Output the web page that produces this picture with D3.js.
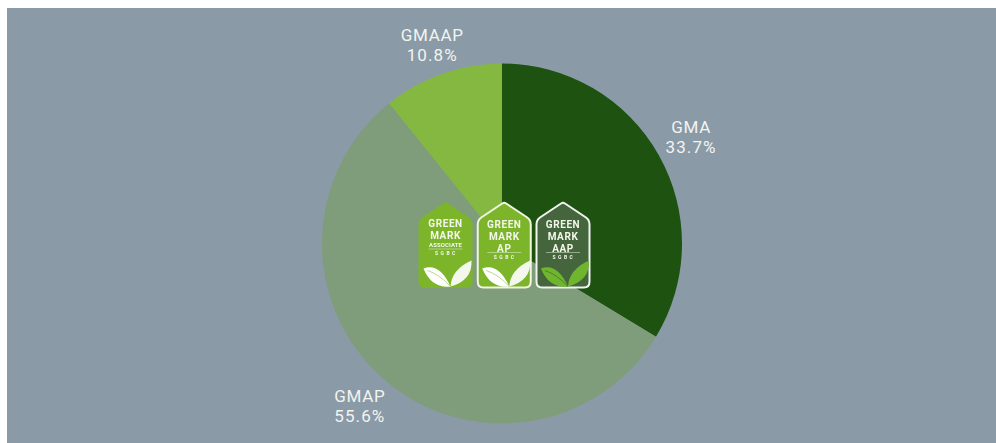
<!DOCTYPE html>
<html>
<head>
<meta charset="utf-8">
<title>Green Mark accreditation share</title>
<script src="https://cdn.jsdelivr.net/npm/d3@7"></script>
<style>
  html, body { margin: 0; padding: 0; background: #fff; }
  svg { display: block; }
  text { font-family: Roboto, sans-serif; }
</style>
</head>
<body>
<div id="chart"></div>
<script>
// chart data
const categories = ["GMA", "GMAP", "GMAAP"];
const shares = [33.7, 55.6, 10.8];
const sliceColors = ["#1e5211", "#7f9c7b", "#84b840"];

// badge content
const badgeLines = [
  ["GREEN", "MARK", "ASSOCIATE"],
  ["GREEN", "MARK", "AP"],
  ["GREEN", "MARK", "AAP"]
];
const badgeFooter = "S G B C";

const width = 996;
const height = 443;
const cx = 502;
const cy = 243.5;
const radius = 180;
const labelRadius = [217, 216, 210];

const svg = d3.select("#chart")
  .append("svg")
    .attr("width", width)
    .attr("height", height);

// the badges in the source are a soft raster
const blur = svg.append("defs")
  .append("filter")
    .attr("id", "soft");
blur.append("feGaussianBlur").attr("stdDeviation", 0.35);

// panel, leaves a white strip on the top and left
svg.append("rect")
  .attr("x", 7)
  .attr("y", 8)
  .attr("width", width - 7)
  .attr("height", height - 8)
  .attr("fill", "#8a9ba7");

const pie = d3.pie().sort(null).value(d => d);
const arc = d3.arc().innerRadius(0).outerRadius(radius);
const slices = pie(shares);

const g = svg.append("g")
  .attr("transform", `translate(${cx},${cy})`);

g.selectAll("path")
  .data(slices)
  .enter()
  .append("path")
    .attr("d", arc)
    .attr("fill", (d, i) => sliceColors[i]);

const labels = g.selectAll(".slice-label")
  .data(slices)
  .enter()
  .append("text")
    .attr("class", "slice-label")
    .attr("transform", (d, i) => {
      const r = labelRadius[i];
      const [x, y] = d3.arc().innerRadius(r).outerRadius(r).centroid(d);
      return `translate(${x},${y})`;
    })
    .attr("text-anchor", "middle")
    .attr("fill", "#f2f4f0")
    .attr("font-size", 17);

labels.append("tspan")
  .attr("x", 0)
  .attr("y", -4)
  .attr("letter-spacing", 0.7)
  .text((d, i) => categories[i]);

labels.append("tspan")
  .attr("x", 0)
  .attr("y", 16)
  .attr("letter-spacing", 1.1)
  .text(d => d.value.toFixed(1) + "%");

// badges sitting on the middle of the pie
const badgeX = d3.scalePoint().domain([0, 1, 2]).range([445.5, 563]);
const badgeStyles = [
  { fill: "#7cb52c", stroke: "#7cb52c", leaf: "#ffffff", leaf2: "#f4f8ec", vein: "#9cc862" },
  { fill: "#7cb52c", stroke: "#eef6df", leaf: "#ffffff", leaf2: "#f4f8ec", vein: "#9cc862" },
  { fill: "#44663c", stroke: "#f1f3ef", leaf: "#6fb52f", leaf2: "#6fb52f", vein: "#44663c" }
];
const badgeShape = "M-2,-41 Q0,-42.5 2,-41 L23,-27 Q26.5,-24.5 26.5,-20 L26.5,37 Q26.5,43 21,43 L-21,43 Q-26.5,43 -26.5,37 L-26.5,-20 Q-26.5,-24.5 -23,-27 Z";

const badges = svg.selectAll(".badge")
  .data(badgeLines)
  .enter()
  .append("g")
    .attr("class", "badge")
    .attr("filter", "url(#soft)")
    .attr("transform", (d, i) => `translate(${badgeX(i)},244.5)`);

badges.append("path")
  .attr("d", badgeShape)
  .attr("fill", (d, i) => badgeStyles[i].fill)
  .attr("stroke", (d, i) => badgeStyles[i].stroke)
  .attr("stroke-width", (d, i) => i === 0 ? 1 : 2);

badges.each(function (lines, i) {
  const b = d3.select(this);
  const small = lines[2].length > 3;

  b.selectAll(".badge-line")
    .data(lines)
    .enter()
    .append("text")
      .attr("class", "badge-line")
      .attr("text-anchor", "middle")
      .attr("y", (d, j) => small ? [-18, -6, 2.5][j] : [-17, -5, 7][j])
      .attr("fill", "#f3f7ea")
      .attr("font-size", (d, j) => small && j === 2 ? 6 : 10)
      .attr("font-weight", 700)
      .attr("letter-spacing", (d, j) => small && j === 2 ? 0.1 : 0.6)
      .text(d => d);

  b.append("line")
    .attr("x1", -17).attr("x2", 17)
    .attr("y1", small ? 4.5 : 8).attr("y2", small ? 4.5 : 8)
    .attr("stroke", "#e6efd8")
    .attr("stroke-width", 0.5);

  b.append("text")
    .attr("text-anchor", "middle")
    .attr("y", small ? 10.5 : 14)
    .attr("fill", "#f3f7ea")
    .attr("font-size", 5)
    .attr("font-weight", 700)
    .attr("letter-spacing", 0.6)
    .text(badgeFooter);

  // two leaves at the bottom
  b.append("path")
    .attr("d", "M-22,24 Q-6,18 5,42 Q-14,44 -22,24 Z")
    .attr("fill", badgeStyles[i].leaf);
  b.append("path")
    .attr("d", "M-18,26 Q-6,30 5,42")
    .attr("fill", "none")
    .attr("stroke", badgeStyles[i].vein)
    .attr("stroke-width", 0.7);
  b.append("path")
    .attr("d", "M5,42 Q6,25 26,16 Q27,36 5,42 Z")
    .attr("fill", badgeStyles[i].leaf2);
});
</script>
</body>
</html>
